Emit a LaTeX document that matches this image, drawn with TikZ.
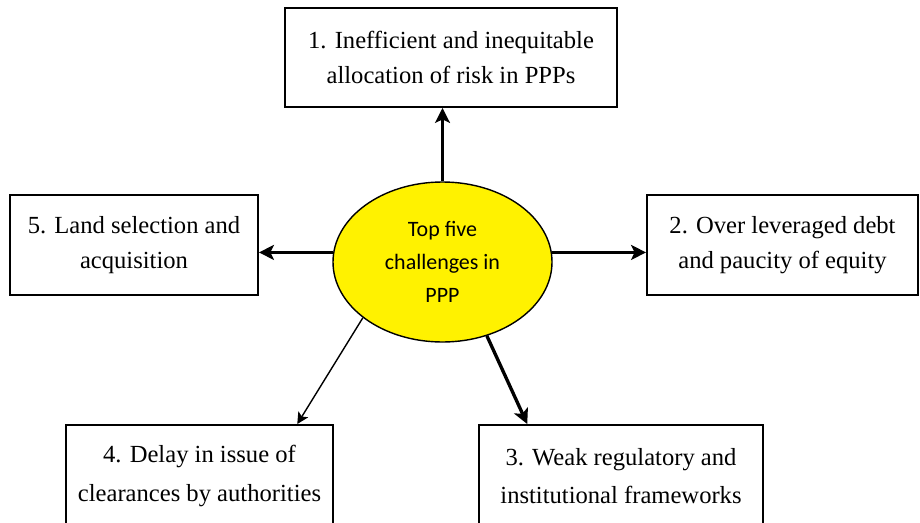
\documentclass[tikz,border=0pt]{standalone}
\usepackage{fontspec}
\setmainfont{Liberation Serif}
\newfontfamily\calib{Carlito}
\usetikzlibrary{arrows.meta}
\usetikzlibrary{shapes.geometric}

\begin{document}
\begin{tikzpicture}[
challenge/.style={draw=black,line width=1.1pt,fill=white,align=center,inner sep=0pt,font=\fontsize{14}{20}\selectfont},
link/.style={-{Stealth[length=8.5pt,width=8.5pt,inset=2pt]},line width=1.9pt}]
\useasboundingbox (0,0) rectangle (18.4,10.44);
\clip (0,0) rectangle (18.4,10.44);
\fill[white] (0,0) rectangle (18.4,10.44);
\node[ellipse,draw=black,fill=yellow,line width=0.8pt,minimum width=4.38cm,minimum height=3.2cm,align=center,font=\calib\fontsize{12.5}{18.8}\selectfont] (top) at (8.85,5.2) {Top five\\challenges in\\PPP};
\node[challenge,minimum width=6.64cm,minimum height=1.98cm] (c1) at (9.02,9.29) {1. Inefficient and inequitable\\allocation of risk in PPPs};
\node[challenge,minimum width=5.42cm,minimum height=2cm] (c2) at (15.65,5.54) {2. Over leveraged debt\\and paucity of equity};
\node[challenge,minimum width=5.68cm,minimum height=2.04cm,font=\fontsize{14}{22}\selectfont] (c3) at (12.42,0.92) {3. Weak regulatory and\\institutional frameworks};
\node[challenge,minimum width=5.34cm,minimum height=2.04cm,font=\fontsize{14}{22}\selectfont] (c4) at (3.99,0.92) {4. Delay in issue of\\clearances by authorities};
\node[challenge,minimum width=4.96cm,minimum height=2cm] (c5) at (2.68,5.54) {5. Land selection and\\acquisition};

\draw[link] (top.north) -- (top.north |- c1.south);
\draw[link] (top.5) -- (top.5 -| c2.west);
\draw[link] (top.301) -- (c3.151);
\draw[link,line width=0.8pt,-{Stealth[length=6.5pt,width=6.5pt,inset=1.5pt]}] (top.215) -- (c4.28);
\draw[link] (top.175) -- (top.175 -| c5.east);
\end{tikzpicture}
\end{document}
